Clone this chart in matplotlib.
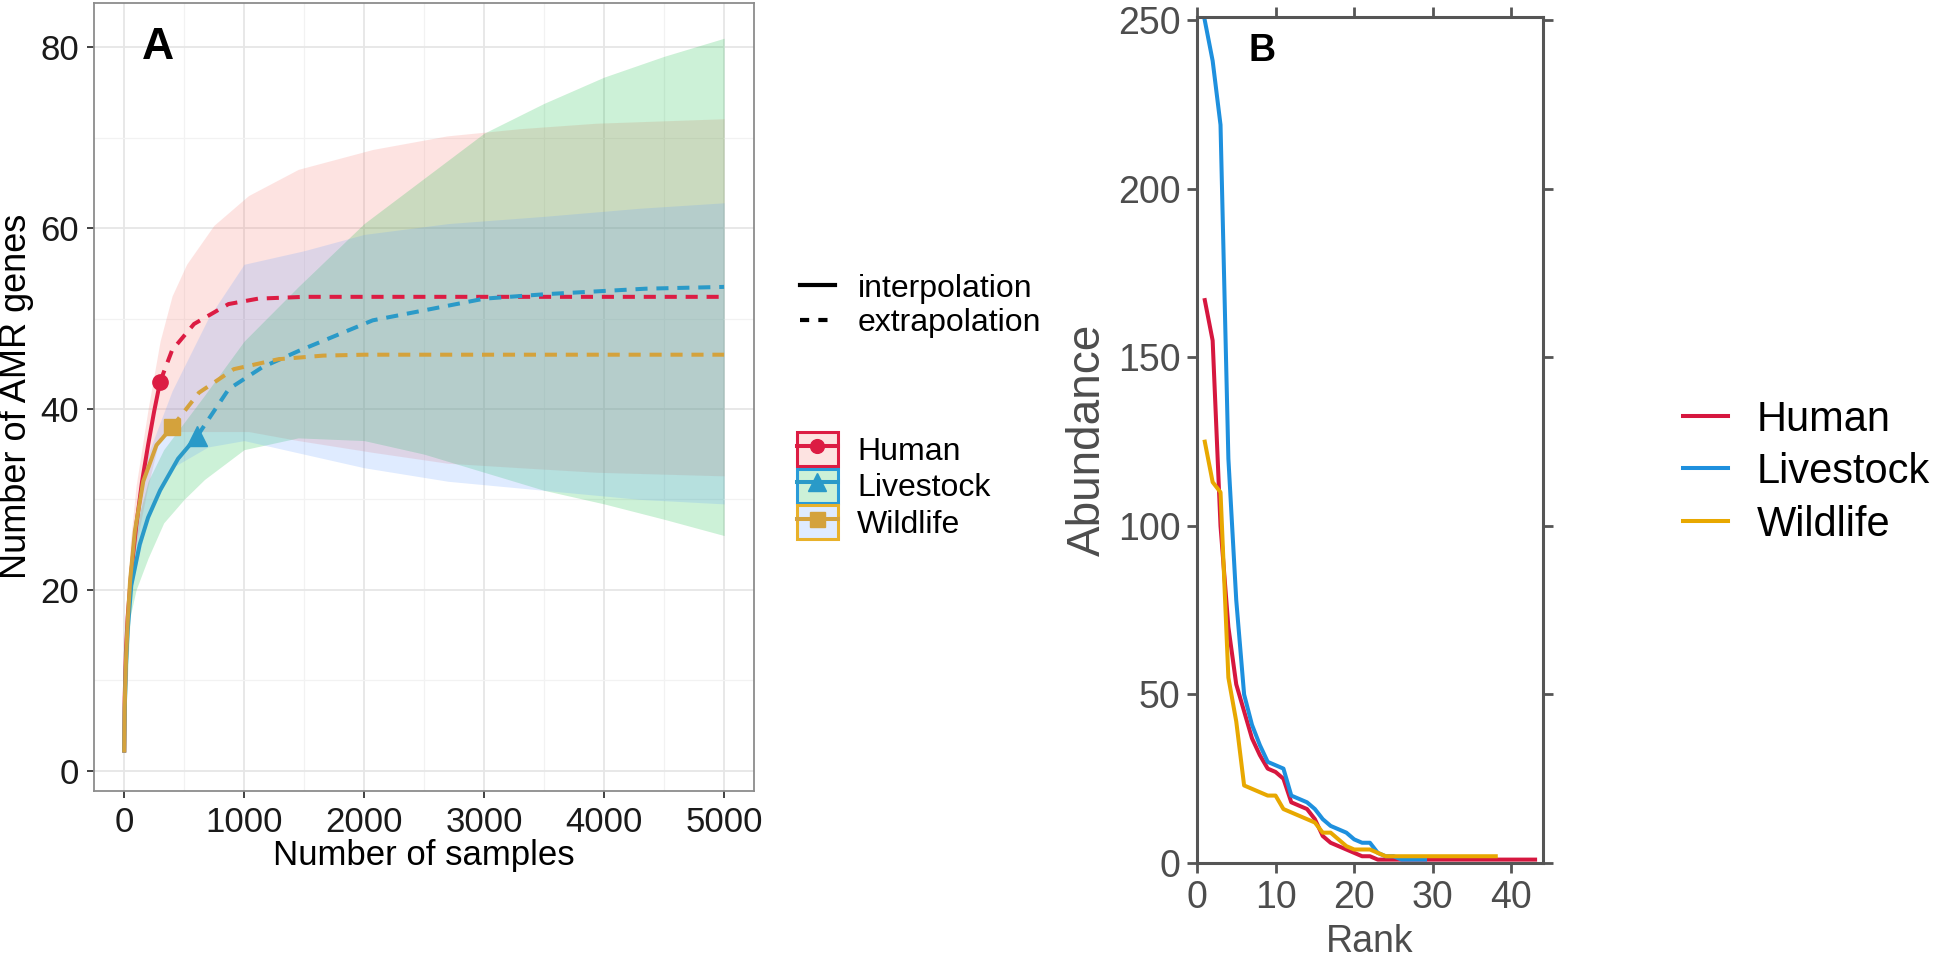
import matplotlib
matplotlib.use("Agg")
import matplotlib.pyplot as plt
from matplotlib.lines import Line2D
from matplotlib.patches import Patch
from matplotlib.legend_handler import HandlerTuple

plt.rcParams['font.family'] = ['Liberation Sans', 'DejaVu Sans']

# ---- panel A : rarefaction / extrapolation of AMR genes ----
groups = ['Human', 'Livestock', 'Wildlife']

interp_x = {
    'Human':     [1, 5, 15, 30, 60, 100, 150, 200, 250, 300],
    'Livestock': [1, 5, 15, 30, 60, 130, 200, 300, 450, 610],
    'Wildlife':  [1, 5, 15, 30, 50, 90, 160, 270, 400],
}
interp_y = {
    'Human':     [2, 8, 13, 17, 22, 27, 32, 36, 39.7, 43],
    'Livestock': [2, 6.5, 11.5, 15.5, 20.5, 25, 28, 31, 34.5, 37],
    'Wildlife':  [2, 7, 12, 16.5, 21, 26.5, 32, 36, 38],
}
extrap_x = {
    'Human':     [300, 400, 583, 870, 1117, 1500, 2000, 3000, 4000, 5000],
    'Livestock': [610, 872, 1150, 1452, 2072, 2692, 3002, 3520, 4345, 5000],
    'Wildlife':  [400, 624, 914, 1286, 1659, 2000, 3000, 4000, 5000],
}
extrap_y = {
    'Human':     [43, 46.5, 49.4, 51.6, 52.2, 52.4, 52.4, 52.4, 52.4, 52.4],
    'Livestock': [37, 42.2, 44.6, 46.4, 49.8, 51.4, 52.2, 52.7, 53.3, 53.5],
    'Wildlife':  [38, 41.8, 44.4, 45.5, 45.9, 46, 46, 46, 46],
}

ci_x = {
    'Human':     [1, 50, 100, 200, 300, 400, 521, 748, 1037, 1452, 2072, 2692, 3300, 3933, 5000],
    'Livestock': [1, 50, 100, 200, 330, 500, 670, 1000, 1450, 2000, 2500, 3000, 3500, 4000, 4500, 5000],
    'Wildlife':  [1, 50, 100, 200, 400, 700, 1000, 1500, 2000, 2700, 3500, 4300, 5000],
}
ci_low = {
    'Human':     [2, 21.5, 25, 31.5, 37, 37.5, 37.5, 37.5, 37.5, 36.5, 35.2, 34, 33.5, 33, 32.6],
    'Livestock': [2, 17, 20, 23.5, 27.4, 30, 32.2, 35.5, 36.8, 36.5, 35, 33, 31, 29.5, 27.8, 26],
    'Wildlife':  [2, 19, 22.5, 28, 33.5, 35.8, 36.5, 35, 33.5, 32, 31, 30, 29.5],
}
ci_high = {
    'Human':     [2, 25, 31.5, 40, 47.5, 52.5, 56, 60.3, 63.6, 66.5, 68.7, 70.2, 71, 71.6, 72.1],
    'Livestock': [2, 22, 27, 32, 35.5, 38.5, 41.5, 47.5, 53.5, 60.5, 65.5, 70.5, 73.8, 76.7, 79, 81],
    'Wildlife':  [2, 23, 28.5, 35, 42, 50, 56, 57.5, 59.3, 60.5, 61.3, 62.2, 62.8],
}

line_col = {'Human': '#DC1C43', 'Livestock': '#2A9AC8', 'Wildlife': '#D4A23C'}
ribbon_col = {'Human': '#F8766D', 'Livestock': '#00BA38', 'Wildlife': '#619CFF'}
key_edge = {'Human': '#DC1C43', 'Livestock': '#2A9BD8', 'Wildlife': '#E8B12A'}
markers = {'Human': ('o', 11), 'Livestock': ('^', 14), 'Wildlife': ('s', 12)}

# ---- panel B : rank abundance ----
human_abund = [167, 155, 100, 70, 53, 45, 37, 32, 28, 27, 25, 18, 17, 16, 13, 8, 6, 5, 4, 3,
               2, 2, 1, 1, 1, 1, 1, 1, 1, 1, 1, 1, 1, 1, 1, 1, 1, 1, 1, 1, 1, 1, 1]
livestock_abund = [250, 238, 219, 120, 78, 50, 41, 35, 30, 29, 28, 20, 19, 18, 16, 13, 11, 10, 9, 7,
                   6, 6, 3, 2, 2, 1, 1, 1, 1]
wildlife_abund = [125, 113, 110, 55, 42, 23, 22, 21, 20, 20, 16, 15, 14, 13, 12, 9, 9, 7, 5, 4,
                  4, 4, 3, 2, 2, 2, 2, 2, 2, 2, 2, 2, 2, 2, 2, 2, 2, 2]
abund = {'Human': human_abund, 'Livestock': livestock_abund, 'Wildlife': wildlife_abund}
rank_col = {'Human': '#D6173F', 'Livestock': '#1E90DE', 'Wildlife': '#E8A800'}


fig = plt.figure(figsize=(19.44, 9.61), dpi=100)

# ================= panel A =================
axA = fig.add_axes([0.0484, 0.1774, 0.3395, 0.8195])
for g in groups:
    axA.fill_between(ci_x[g], ci_low[g], ci_high[g], color=ribbon_col[g], alpha=0.2, lw=0)
for g in groups:
    axA.plot(interp_x[g], interp_y[g], color=line_col[g], lw=2.9, solid_capstyle='butt')
    axA.plot(extrap_x[g], extrap_y[g], color=line_col[g], lw=2.9, dashes=(3.0, 2.2))
    m, ms = markers[g]
    axA.plot(interp_x[g][-1], interp_y[g][-1], marker=m, ms=ms, color=line_col[g], ls='none')

axA.set_xlim(-250, 5250)
axA.set_ylim(-2.2, 84.9)
axA.set_xticks([0, 1000, 2000, 3000, 4000, 5000])
axA.set_yticks([0, 20, 40, 60, 80])
axA.set_xticks(range(500, 5000, 1000), minor=True)
axA.set_yticks([10, 30, 50, 70], minor=True)
axA.grid(which='major', color='#e6e6e6', lw=1.3)
axA.grid(which='minor', color='#f2f2f2', lw=0.9)
axA.set_axisbelow(True)
axA.tick_params(which='major', labelsize=25, labelcolor='#1a1a1a', color='#333333',
                length=5, width=1.3, pad=6)
axA.tick_params(which='minor', length=0)
for s in axA.spines.values():
    s.set_color('#8c8c8c')
    s.set_linewidth(1.3)
axA.set_xlabel('Number of samples', fontsize=25, va='center')
axA.xaxis.set_label_coords(0.5, -0.082)
axA.set_ylabel('Number of AMR genes', fontsize=26, va='center')
axA.yaxis.set_label_coords(-0.118, 0.5)
axA.text(285, 80, 'A', fontsize=32, fontweight='bold', ha='center', va='center')

# legends of panel A
lt_handles = [Line2D([], [], color='black', lw=3),
              Line2D([], [], color='black', lw=3, dashes=(2.2, 2.2))]
leg1 = fig.legend(lt_handles, ['interpolation', 'extrapolation'], loc='center left',
                  bbox_to_anchor=(0.4115, 0.6816), frameon=False, fontsize=23,
                  handlelength=1.1, handletextpad=0.7, labelspacing=0.15,
                  borderpad=0, borderaxespad=0)
grp_handles = []
for g in groups:
    m, ms = markers[g]
    box = Patch(facecolor=ribbon_col[g] + '33', edgecolor=key_edge[g], lw=2.2)
    ln = Line2D([], [], color=line_col[g], lw=2.9, marker=m, ms=ms * 0.9)
    grp_handles.append((box, ln))
leg2 = fig.legend(grp_handles, groups, loc='center left', bbox_to_anchor=(0.4100, 0.4943),
                  frameon=False, fontsize=23, handlelength=1.28, handleheight=1.28,
                  handletextpad=0.6, labelspacing=0.05, borderpad=0, borderaxespad=0,
                  handler_map={tuple: HandlerTuple(ndivide=1)})

# ================= panel B =================
axB = fig.add_axes([0.6157, 0.1020, 0.1780, 0.8803])
for g in groups:
    ranks = list(range(1, len(abund[g]) + 1))
    axB.plot(ranks, abund[g], color=rank_col[g], lw=2.9, label=g)
axB.set_xlim(0, 44)
axB.set_ylim(0, 251)
axB.set_xticks([0, 10, 20, 30, 40])
axB.set_yticks([0, 50, 100, 150, 200, 250])
axB.tick_params(direction='out', top=True, right=True, labelsize=27, labelcolor='#4d4d4d',
                color='#555555', length=7, width=2, pad=5)
for s in axB.spines.values():
    s.set_color('#555555')
    s.set_linewidth(2.2)
axB.set_xlabel('Rank', fontsize=27, color='#4d4d4d', va='center')
axB.xaxis.set_label_coords(0.5, -0.093)
axB.set_ylabel('Abundance', fontsize=33, color='#4d4d4d', va='center')
axB.yaxis.set_label_coords(-0.315, 0.5)
axB.text(8.3, 241, 'B', fontsize=27, fontweight='bold', ha='center', va='center')

fig.legend(*axB.get_legend_handles_labels(), loc='center left', bbox_to_anchor=(0.8657, 0.5088),
           frameon=False, fontsize=30, handlelength=1.07, handletextpad=0.7, labelspacing=0.3,
           borderpad=0, borderaxespad=0)

fig.savefig('out.png', dpi=100)
